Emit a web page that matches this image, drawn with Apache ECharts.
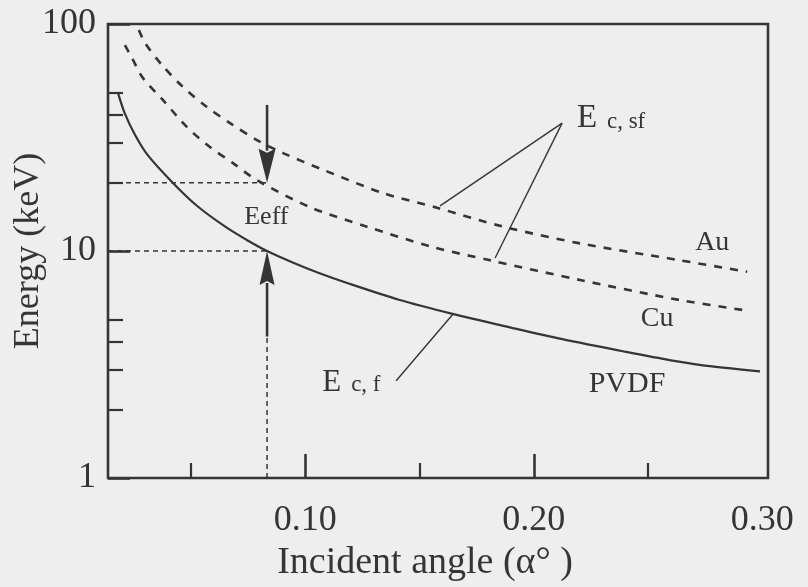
<!DOCTYPE html>
<html>
<head>
<meta charset="utf-8">
<script src="https://cdn.jsdelivr.net/npm/echarts@6/dist/echarts.min.js"></script>
<style>
  html, body { margin: 0; padding: 0; background: #eeeeee; }
  #chart { width: 808px; height: 587px; }
</style>
</head>
<body>
<div id="chart"></div>
<script>
// Critical energy of the PVDF film, E c,f (keV) against incident angle (deg)
const pvdfAngle  = [0.018, 0.021, 0.0255, 0.031, 0.042, 0.053, 0.065, 0.075, 0.0833, 0.094, 0.106, 0.118, 0.141, 0.164, 0.19, 0.212, 0.24, 0.26, 0.278, 0.299];
const pvdfEnergy = [50, 40.5, 32.5, 26.5, 20, 15.7, 12.8, 11.1, 10, 8.95, 8.0, 7.25, 6.1, 5.3, 4.6, 4.1, 3.6, 3.3, 3.1, 2.95];

// Critical energy of the substrates, E c,sf (keV)
const auAngle  = [0.0272, 0.0299, 0.0373, 0.0465, 0.057, 0.0671, 0.0789, 0.0903, 0.1078, 0.134, 0.1577, 0.1866, 0.2203, 0.264, 0.2934];
const auEnergy = [94, 82.5, 66, 52.8, 43.1, 36.6, 30.8, 27.0, 22.8, 18.0, 15.5, 12.8, 10.8, 9.1, 8.1];
const cuAngle  = [0.0211, 0.0242, 0.029, 0.0377, 0.0482, 0.0583, 0.0684, 0.0789, 0.1021, 0.127, 0.1559, 0.1809, 0.2203, 0.264, 0.2946];
const cuEnergy = [80.8, 70.8, 57.8, 46.3, 35.2, 28.7, 24.4, 20.5, 15.6, 12.8, 10.4, 9.1, 7.45, 6.08, 5.44];

// Axis ranges and tick values
const angleMin = 0.0137, angleMax = 0.3025;
const angleLabels = [0.10, 0.20, 0.30];
const angleMajorTicks = [0.10, 0.20];
const angleMinorTicks = [0.05, 0.15, 0.25];
const energyMin = 1, energyMax = 100;
const energyMinorTicks = [2, 3, 4, 5, 20, 30, 40, 50];

const effAngle = 0.0833;
const effLevels = [20, 10];

const ink = '#353535';
const serif = '"Liberation Serif", "Times New Roman", serif';

const zip = (xs, ys) => xs.map((x, i) => [x, ys[i]]);

function renderAnnotations(params, api) {
  const p = (a, e) => api.coord([a, e]);
  const kids = [];
  const seg = (a, b, style) => kids.push({ type: 'line', shape: { x1: a[0], y1: a[1], x2: b[0], y2: b[1] }, style });
  const guide = { stroke: ink, lineWidth: 1.5, lineDash: [5, 4] };
  const thin = { stroke: ink, lineWidth: 1.4 };

  // dashed guides to the energy axis and down to the angle axis
  effLevels.forEach(level => seg(p(angleMin, level), p(effAngle, level), guide));
  seg(p(effAngle, energyMin), p(effAngle, 4.2), guide);

  // arrows marking E c,sf (from above) and E c,f (from below)
  function arrow(fromE, toE, headLen, headW) {
    const s = p(effAngle, fromE), t = p(effAngle, toE);
    const dir = Math.sign(t[1] - s[1]);
    const base = t[1] - dir * headLen;
    seg(s, [t[0], base], { stroke: ink, lineWidth: 2.6 });
    kids.push({
      type: 'polygon',
      shape: { points: [[t[0], t[1]], [t[0] - headW / 2, base - dir * 2], [t[0], base + dir * 2], [t[0] + headW / 2, base - dir * 2]] },
      style: { fill: ink }
    });
  }
  arrow(44, 20, 32, 17);
  arrow(4.2, 10, 32, 15);

  // pointer lines from the curve labels
  const sf = p(0.2124, 36.6);
  seg(sf, p(0.1590, 15.8), thin);
  seg(sf, p(0.1831, 9.31), thin);
  seg(p(0.1398, 2.68), p(0.1647, 5.28), thin);

  // text placed by its baseline
  function text(str, a, e, size, align, dx) {
    const q = p(a, e);
    kids.push({
      type: 'text',
      x: q[0] + (dx || 0), y: q[1] - size * 0.34,
      style: { text: str, font: size + 'px ' + serif, fill: ink, align: align, verticalAlign: 'middle' }
    });
  }
  text('Eeff', 0.0830, 12.9, 26, 'center');
  text('E', 0.2189, 34.2, 33, 'left');
  text('c, sf', 0.2189, 34.2, 23, 'left', 30);
  text('Au', 0.2781, 9.9, 28, 'center');
  text('Cu', 0.2540, 4.55, 28, 'center');
  text('PVDF', 0.2408, 2.33, 30, 'center');
  text('E', 0.1074, 2.37, 31, 'left');
  text('c, f', 0.1074, 2.37, 23, 'left', 29);

  return { type: 'group', children: kids };
}

const chart = echarts.init(document.getElementById('chart'), null, { renderer: 'canvas' });

chart.setOption({
  backgroundColor: '#eeeeee',
  animation: false,
  grid: {
    left: 108, top: 24, right: 40, bottom: 109,
    containLabel: false, outerBoundsMode: 'none',
    show: true, borderColor: ink, borderWidth: 2.6, backgroundColor: 'transparent'
  },
  xAxis: [
    {
      type: 'value', min: angleMin, max: angleMax, position: 'bottom',
      axisLine: { show: false }, splitLine: { show: false },
      axisTick: { show: true, inside: true, length: 24, customValues: angleMajorTicks, lineStyle: { color: ink, width: 2.6 } },
      axisLabel: {
        customValues: angleLabels, margin: 25, color: ink, fontFamily: serif, fontSize: 36,
        formatter: v => v.toFixed(2)
      },
      name: 'Incident angle (α° )', nameLocation: 'middle', nameGap: 66, nameMoveOverlap: false,
      nameTextStyle: { color: ink, fontFamily: serif, fontSize: 38, padding: [0, 26, 0, 0] }
    },
    {
      type: 'value', min: angleMin, max: angleMax, position: 'bottom', offset: 0,
      axisLine: { show: false }, splitLine: { show: false }, axisLabel: { show: false },
      axisTick: { show: true, inside: true, length: 15, customValues: angleMinorTicks, lineStyle: { color: ink, width: 2.2 } }
    }
  ],
  yAxis: [
    {
      type: 'log', logBase: 10, min: energyMin, max: energyMax, position: 'left',
      axisLine: { show: false }, splitLine: { show: false },
      axisTick: { show: true, inside: true, length: 22, lineStyle: { color: ink, width: 2.6 } },
      minorTick: { show: false },
      axisLabel: { margin: 12, color: ink, fontFamily: serif, fontSize: 36 },
      name: 'Energy (keV)', nameLocation: 'middle', nameGap: 61, nameRotate: 90, nameMoveOverlap: false,
      nameTextStyle: { color: ink, fontFamily: serif, fontSize: 36 }
    },
    {
      type: 'log', logBase: 10, min: energyMin, max: energyMax, position: 'left', offset: 0,
      axisLine: { show: false }, splitLine: { show: false }, axisLabel: { show: false },
      axisTick: { show: true, inside: true, length: 15, customValues: energyMinorTicks, lineStyle: { color: ink, width: 2.2 } }
    }
  ],
  series: [
    {
      name: 'PVDF', type: 'line', data: zip(pvdfAngle, pvdfEnergy),
      smooth: 0.3, symbol: 'none',
      lineStyle: { color: ink, width: 2.2 }
    },
    {
      name: 'Au', type: 'line', data: zip(auAngle, auEnergy),
      smooth: 0.3, symbol: 'none',
      lineStyle: { color: ink, width: 2.6, type: [8, 8] }
    },
    {
      name: 'Cu', type: 'line', data: zip(cuAngle, cuEnergy),
      smooth: 0.3, symbol: 'none',
      lineStyle: { color: ink, width: 2.6, type: [8, 8] }
    },
    {
      name: 'annotations', type: 'custom', data: [[effAngle, 10]],
      renderItem: renderAnnotations, clip: false, silent: true, z: 5
    }
  ]
});
</script>
</body>
</html>
